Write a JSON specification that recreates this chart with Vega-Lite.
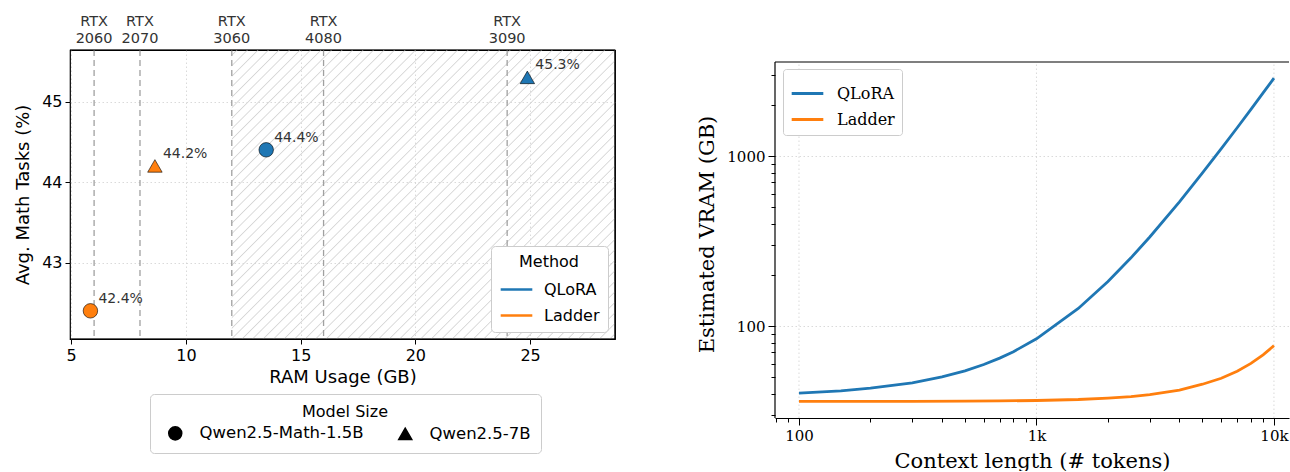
{
"$schema": "https://vega.github.io/schema/vega-lite/v6.json",
"background": "white",
"padding": {"left": 14, "top": 13, "right": 0, "bottom": 0},
"spacing": 79,
"config": {
  "font": "DejaVu Sans",
  "axis": {"labelColor": "black", "titleColor": "black", "tickColor": "black", "domainColor": "black", "titleFontWeight": "normal", "tickWidth": 1},
  "legend": {"titleFontWeight": "normal"}
},
"datasets": {
  "hatch": [{"from": 12, "to": 28.7}],
  "lframe": [{"right": 28.7, "top": 45.64, "bottom": 42.05}],
  "rframe": [{"left": 79.25, "top": 3573, "bottom": 28.8}],
  "rgrid": [{"ctx": 100}, {"ctx": 1000}, {"ctx": 10000}],
  "gpus": [
    {"gpu": "RTX 2060", "vram": 6},
    {"gpu": "RTX 2070", "vram": 8},
    {"gpu": "RTX 3060", "vram": 12},
    {"gpu": "RTX 4080", "vram": 16},
    {"gpu": "RTX 3090", "vram": 24}
  ],
  "points": [
    {"method": "Ladder", "model": "Qwen2.5-Math-1.5B", "ram": 5.84, "acc": 42.4, "label": "42.4%"},
    {"method": "Ladder", "model": "Qwen2.5-7B", "ram": 8.65, "acc": 44.2, "label": "44.2%"},
    {"method": "QLoRA", "model": "Qwen2.5-Math-1.5B", "ram": 13.5, "acc": 44.4, "label": "44.4%"},
    {"method": "QLoRA", "model": "Qwen2.5-7B", "ram": 24.88, "acc": 45.3, "label": "45.3%"}
  ],
  "vram": [
    {"method": "QLoRA", "ctx": 100, "vram": 40.3},
    {"method": "QLoRA", "ctx": 150, "vram": 41.6},
    {"method": "QLoRA", "ctx": 200, "vram": 43.1},
    {"method": "QLoRA", "ctx": 300, "vram": 46.4},
    {"method": "QLoRA", "ctx": 400, "vram": 50.2},
    {"method": "QLoRA", "ctx": 500, "vram": 54.5},
    {"method": "QLoRA", "ctx": 600, "vram": 59.4},
    {"method": "QLoRA", "ctx": 700, "vram": 64.8},
    {"method": "QLoRA", "ctx": 800, "vram": 70.7},
    {"method": "QLoRA", "ctx": 1000, "vram": 84.2},
    {"method": "QLoRA", "ctx": 1500, "vram": 126.9},
    {"method": "QLoRA", "ctx": 2000, "vram": 182.9},
    {"method": "QLoRA", "ctx": 2500, "vram": 252},
    {"method": "QLoRA", "ctx": 3000, "vram": 334},
    {"method": "QLoRA", "ctx": 4000, "vram": 538},
    {"method": "QLoRA", "ctx": 5000, "vram": 795},
    {"method": "QLoRA", "ctx": 6000, "vram": 1105},
    {"method": "QLoRA", "ctx": 7000, "vram": 1467},
    {"method": "QLoRA", "ctx": 8000, "vram": 1882},
    {"method": "QLoRA", "ctx": 9000, "vram": 2350},
    {"method": "QLoRA", "ctx": 10000, "vram": 2870},
    {"method": "Ladder", "ctx": 100, "vram": 36.1},
    {"method": "Ladder", "ctx": 200, "vram": 36.1},
    {"method": "Ladder", "ctx": 300, "vram": 36.1},
    {"method": "Ladder", "ctx": 500, "vram": 36.2},
    {"method": "Ladder", "ctx": 700, "vram": 36.3},
    {"method": "Ladder", "ctx": 1000, "vram": 36.5},
    {"method": "Ladder", "ctx": 1500, "vram": 37.0},
    {"method": "Ladder", "ctx": 2000, "vram": 37.7},
    {"method": "Ladder", "ctx": 2500, "vram": 38.5},
    {"method": "Ladder", "ctx": 3000, "vram": 39.5},
    {"method": "Ladder", "ctx": 4000, "vram": 42.0},
    {"method": "Ladder", "ctx": 5000, "vram": 45.5},
    {"method": "Ladder", "ctx": 6000, "vram": 49.3},
    {"method": "Ladder", "ctx": 7000, "vram": 54.3},
    {"method": "Ladder", "ctx": 8000, "vram": 60.3},
    {"method": "Ladder", "ctx": 9000, "vram": 67.8},
    {"method": "Ladder", "ctx": 10000, "vram": 76.7}
  ]
},
"hconcat": [
  {
    "width": 545,
    "height": 289,
    "view": {"stroke": "black", "strokeWidth": 1.2},
    "layer": [
      {
        "data": {"name": "hatch"},
        "mark": {"type": "rect", "fill": {"gradient": "linear", "x1": 0, "y1": 0, "x2": 1.118, "y2": 0.8437, "stops": [
          {"offset": 0, "color": "rgba(214,214,214,0)"},
          {"offset": 0.0060, "color": "rgba(214,214,214,0)"},{"offset": 0.0078, "color": "#d6d6d6"},{"offset": 0.0096, "color": "rgba(214,214,214,0)"},
          {"offset": 0.0216, "color": "rgba(214,214,214,0)"},{"offset": 0.0234, "color": "#d6d6d6"},{"offset": 0.0252, "color": "rgba(214,214,214,0)"},
          {"offset": 0.0373, "color": "rgba(214,214,214,0)"},{"offset": 0.0391, "color": "#d6d6d6"},{"offset": 0.0409, "color": "rgba(214,214,214,0)"},
          {"offset": 0.0529, "color": "rgba(214,214,214,0)"},{"offset": 0.0547, "color": "#d6d6d6"},{"offset": 0.0565, "color": "rgba(214,214,214,0)"},
          {"offset": 0.0685, "color": "rgba(214,214,214,0)"},{"offset": 0.0703, "color": "#d6d6d6"},{"offset": 0.0721, "color": "rgba(214,214,214,0)"},
          {"offset": 0.0841, "color": "rgba(214,214,214,0)"},{"offset": 0.0859, "color": "#d6d6d6"},{"offset": 0.0877, "color": "rgba(214,214,214,0)"},
          {"offset": 0.0998, "color": "rgba(214,214,214,0)"},{"offset": 0.1016, "color": "#d6d6d6"},{"offset": 0.1034, "color": "rgba(214,214,214,0)"},
          {"offset": 0.1154, "color": "rgba(214,214,214,0)"},{"offset": 0.1172, "color": "#d6d6d6"},{"offset": 0.1190, "color": "rgba(214,214,214,0)"},
          {"offset": 0.1310, "color": "rgba(214,214,214,0)"},{"offset": 0.1328, "color": "#d6d6d6"},{"offset": 0.1346, "color": "rgba(214,214,214,0)"},
          {"offset": 0.1466, "color": "rgba(214,214,214,0)"},{"offset": 0.1484, "color": "#d6d6d6"},{"offset": 0.1502, "color": "rgba(214,214,214,0)"},
          {"offset": 0.1623, "color": "rgba(214,214,214,0)"},{"offset": 0.1641, "color": "#d6d6d6"},{"offset": 0.1659, "color": "rgba(214,214,214,0)"},
          {"offset": 0.1779, "color": "rgba(214,214,214,0)"},{"offset": 0.1797, "color": "#d6d6d6"},{"offset": 0.1815, "color": "rgba(214,214,214,0)"},
          {"offset": 0.1935, "color": "rgba(214,214,214,0)"},{"offset": 0.1953, "color": "#d6d6d6"},{"offset": 0.1971, "color": "rgba(214,214,214,0)"},
          {"offset": 0.2091, "color": "rgba(214,214,214,0)"},{"offset": 0.2109, "color": "#d6d6d6"},{"offset": 0.2127, "color": "rgba(214,214,214,0)"},
          {"offset": 0.2248, "color": "rgba(214,214,214,0)"},{"offset": 0.2266, "color": "#d6d6d6"},{"offset": 0.2284, "color": "rgba(214,214,214,0)"},
          {"offset": 0.2404, "color": "rgba(214,214,214,0)"},{"offset": 0.2422, "color": "#d6d6d6"},{"offset": 0.2440, "color": "rgba(214,214,214,0)"},
          {"offset": 0.2560, "color": "rgba(214,214,214,0)"},{"offset": 0.2578, "color": "#d6d6d6"},{"offset": 0.2596, "color": "rgba(214,214,214,0)"},
          {"offset": 0.2716, "color": "rgba(214,214,214,0)"},{"offset": 0.2734, "color": "#d6d6d6"},{"offset": 0.2752, "color": "rgba(214,214,214,0)"},
          {"offset": 0.2873, "color": "rgba(214,214,214,0)"},{"offset": 0.2891, "color": "#d6d6d6"},{"offset": 0.2909, "color": "rgba(214,214,214,0)"},
          {"offset": 0.3029, "color": "rgba(214,214,214,0)"},{"offset": 0.3047, "color": "#d6d6d6"},{"offset": 0.3065, "color": "rgba(214,214,214,0)"},
          {"offset": 0.3185, "color": "rgba(214,214,214,0)"},{"offset": 0.3203, "color": "#d6d6d6"},{"offset": 0.3221, "color": "rgba(214,214,214,0)"},
          {"offset": 0.3341, "color": "rgba(214,214,214,0)"},{"offset": 0.3359, "color": "#d6d6d6"},{"offset": 0.3377, "color": "rgba(214,214,214,0)"},
          {"offset": 0.3498, "color": "rgba(214,214,214,0)"},{"offset": 0.3516, "color": "#d6d6d6"},{"offset": 0.3534, "color": "rgba(214,214,214,0)"},
          {"offset": 0.3654, "color": "rgba(214,214,214,0)"},{"offset": 0.3672, "color": "#d6d6d6"},{"offset": 0.3690, "color": "rgba(214,214,214,0)"},
          {"offset": 0.3810, "color": "rgba(214,214,214,0)"},{"offset": 0.3828, "color": "#d6d6d6"},{"offset": 0.3846, "color": "rgba(214,214,214,0)"},
          {"offset": 0.3966, "color": "rgba(214,214,214,0)"},{"offset": 0.3984, "color": "#d6d6d6"},{"offset": 0.4002, "color": "rgba(214,214,214,0)"},
          {"offset": 0.4123, "color": "rgba(214,214,214,0)"},{"offset": 0.4141, "color": "#d6d6d6"},{"offset": 0.4159, "color": "rgba(214,214,214,0)"},
          {"offset": 0.4279, "color": "rgba(214,214,214,0)"},{"offset": 0.4297, "color": "#d6d6d6"},{"offset": 0.4315, "color": "rgba(214,214,214,0)"},
          {"offset": 0.4435, "color": "rgba(214,214,214,0)"},{"offset": 0.4453, "color": "#d6d6d6"},{"offset": 0.4471, "color": "rgba(214,214,214,0)"},
          {"offset": 0.4591, "color": "rgba(214,214,214,0)"},{"offset": 0.4609, "color": "#d6d6d6"},{"offset": 0.4627, "color": "rgba(214,214,214,0)"},
          {"offset": 0.4748, "color": "rgba(214,214,214,0)"},{"offset": 0.4766, "color": "#d6d6d6"},{"offset": 0.4784, "color": "rgba(214,214,214,0)"},
          {"offset": 0.4904, "color": "rgba(214,214,214,0)"},{"offset": 0.4922, "color": "#d6d6d6"},{"offset": 0.4940, "color": "rgba(214,214,214,0)"},
          {"offset": 0.5060, "color": "rgba(214,214,214,0)"},{"offset": 0.5078, "color": "#d6d6d6"},{"offset": 0.5096, "color": "rgba(214,214,214,0)"},
          {"offset": 0.5216, "color": "rgba(214,214,214,0)"},{"offset": 0.5234, "color": "#d6d6d6"},{"offset": 0.5252, "color": "rgba(214,214,214,0)"},
          {"offset": 0.5373, "color": "rgba(214,214,214,0)"},{"offset": 0.5391, "color": "#d6d6d6"},{"offset": 0.5409, "color": "rgba(214,214,214,0)"},
          {"offset": 0.5529, "color": "rgba(214,214,214,0)"},{"offset": 0.5547, "color": "#d6d6d6"},{"offset": 0.5565, "color": "rgba(214,214,214,0)"},
          {"offset": 0.5685, "color": "rgba(214,214,214,0)"},{"offset": 0.5703, "color": "#d6d6d6"},{"offset": 0.5721, "color": "rgba(214,214,214,0)"},
          {"offset": 0.5841, "color": "rgba(214,214,214,0)"},{"offset": 0.5859, "color": "#d6d6d6"},{"offset": 0.5877, "color": "rgba(214,214,214,0)"},
          {"offset": 0.5998, "color": "rgba(214,214,214,0)"},{"offset": 0.6016, "color": "#d6d6d6"},{"offset": 0.6034, "color": "rgba(214,214,214,0)"},
          {"offset": 0.6154, "color": "rgba(214,214,214,0)"},{"offset": 0.6172, "color": "#d6d6d6"},{"offset": 0.6190, "color": "rgba(214,214,214,0)"},
          {"offset": 0.6310, "color": "rgba(214,214,214,0)"},{"offset": 0.6328, "color": "#d6d6d6"},{"offset": 0.6346, "color": "rgba(214,214,214,0)"},
          {"offset": 0.6466, "color": "rgba(214,214,214,0)"},{"offset": 0.6484, "color": "#d6d6d6"},{"offset": 0.6502, "color": "rgba(214,214,214,0)"},
          {"offset": 0.6623, "color": "rgba(214,214,214,0)"},{"offset": 0.6641, "color": "#d6d6d6"},{"offset": 0.6659, "color": "rgba(214,214,214,0)"},
          {"offset": 0.6779, "color": "rgba(214,214,214,0)"},{"offset": 0.6797, "color": "#d6d6d6"},{"offset": 0.6815, "color": "rgba(214,214,214,0)"},
          {"offset": 0.6935, "color": "rgba(214,214,214,0)"},{"offset": 0.6953, "color": "#d6d6d6"},{"offset": 0.6971, "color": "rgba(214,214,214,0)"},
          {"offset": 0.7091, "color": "rgba(214,214,214,0)"},{"offset": 0.7109, "color": "#d6d6d6"},{"offset": 0.7127, "color": "rgba(214,214,214,0)"},
          {"offset": 0.7248, "color": "rgba(214,214,214,0)"},{"offset": 0.7266, "color": "#d6d6d6"},{"offset": 0.7284, "color": "rgba(214,214,214,0)"},
          {"offset": 0.7404, "color": "rgba(214,214,214,0)"},{"offset": 0.7422, "color": "#d6d6d6"},{"offset": 0.7440, "color": "rgba(214,214,214,0)"},
          {"offset": 0.7560, "color": "rgba(214,214,214,0)"},{"offset": 0.7578, "color": "#d6d6d6"},{"offset": 0.7596, "color": "rgba(214,214,214,0)"},
          {"offset": 0.7716, "color": "rgba(214,214,214,0)"},{"offset": 0.7734, "color": "#d6d6d6"},{"offset": 0.7752, "color": "rgba(214,214,214,0)"},
          {"offset": 0.7873, "color": "rgba(214,214,214,0)"},{"offset": 0.7891, "color": "#d6d6d6"},{"offset": 0.7909, "color": "rgba(214,214,214,0)"},
          {"offset": 0.8029, "color": "rgba(214,214,214,0)"},{"offset": 0.8047, "color": "#d6d6d6"},{"offset": 0.8065, "color": "rgba(214,214,214,0)"},
          {"offset": 0.8185, "color": "rgba(214,214,214,0)"},{"offset": 0.8203, "color": "#d6d6d6"},{"offset": 0.8221, "color": "rgba(214,214,214,0)"},
          {"offset": 0.8341, "color": "rgba(214,214,214,0)"},{"offset": 0.8359, "color": "#d6d6d6"},{"offset": 0.8377, "color": "rgba(214,214,214,0)"},
          {"offset": 0.8498, "color": "rgba(214,214,214,0)"},{"offset": 0.8516, "color": "#d6d6d6"},{"offset": 0.8534, "color": "rgba(214,214,214,0)"},
          {"offset": 0.8654, "color": "rgba(214,214,214,0)"},{"offset": 0.8672, "color": "#d6d6d6"},{"offset": 0.8690, "color": "rgba(214,214,214,0)"},
          {"offset": 0.8810, "color": "rgba(214,214,214,0)"},{"offset": 0.8828, "color": "#d6d6d6"},{"offset": 0.8846, "color": "rgba(214,214,214,0)"},
          {"offset": 0.8966, "color": "rgba(214,214,214,0)"},{"offset": 0.8984, "color": "#d6d6d6"},{"offset": 0.9002, "color": "rgba(214,214,214,0)"},
          {"offset": 0.9123, "color": "rgba(214,214,214,0)"},{"offset": 0.9141, "color": "#d6d6d6"},{"offset": 0.9159, "color": "rgba(214,214,214,0)"},
          {"offset": 0.9279, "color": "rgba(214,214,214,0)"},{"offset": 0.9297, "color": "#d6d6d6"},{"offset": 0.9315, "color": "rgba(214,214,214,0)"},
          {"offset": 0.9435, "color": "rgba(214,214,214,0)"},{"offset": 0.9453, "color": "#d6d6d6"},{"offset": 0.9471, "color": "rgba(214,214,214,0)"},
          {"offset": 0.9591, "color": "rgba(214,214,214,0)"},{"offset": 0.9609, "color": "#d6d6d6"},{"offset": 0.9627, "color": "rgba(214,214,214,0)"},
          {"offset": 0.9748, "color": "rgba(214,214,214,0)"},{"offset": 0.9766, "color": "#d6d6d6"},{"offset": 0.9784, "color": "rgba(214,214,214,0)"},
          {"offset": 0.9904, "color": "rgba(214,214,214,0)"},{"offset": 0.9922, "color": "#d6d6d6"},{"offset": 0.9940, "color": "rgba(214,214,214,0)"},
          {"offset": 1, "color": "rgba(214,214,214,0)"}
        ]}},
        "encoding": {
          "x": {"field": "from", "type": "quantitative", "scale": {"domain": [4.95, 28.7], "nice": false, "zero": false}},
          "x2": {"field": "to"}
        }
      },
      {
        "data": {"name": "gpus"},
        "mark": {"type": "rule", "color": "#a0a0a0", "strokeDash": [6, 4], "strokeWidth": 1.3},
        "encoding": {
          "x": {"field": "vram", "type": "quantitative", "scale": {"domain": [4.95, 28.7], "nice": false, "zero": false}}
        }
      },
      {
        "data": {"name": "gpus"},
        "mark": {"type": "text", "lineBreak": " ", "baseline": "bottom", "align": "center", "dy": -21, "fontSize": 14.5, "color": "#333333", "lineHeight": 16.5},
        "encoding": {
          "x": {"field": "vram", "type": "quantitative", "scale": {"domain": [4.95, 28.7], "nice": false, "zero": false}},
          "y": {"datum": 45.64, "type": "quantitative", "scale": {"domain": [42.05, 45.64], "nice": false, "zero": false}},
          "text": {"field": "gpu"}
        }
      },
      {
        "data": {"name": "lframe"},
        "mark": {"type": "rule", "color": "black", "strokeWidth": 1.2},
        "encoding": {
          "y": {"field": "top", "type": "quantitative", "scale": {"domain": [42.05, 45.64], "nice": false, "zero": false}}
        }
      },
      {
        "data": {"name": "lframe"},
        "mark": {"type": "rule", "color": "black", "strokeWidth": 1.2},
        "encoding": {
          "y": {"field": "bottom", "type": "quantitative", "scale": {"domain": [42.05, 45.64], "nice": false, "zero": false}}
        }
      },
      {
        "data": {"name": "lframe"},
        "mark": {"type": "rule", "color": "black", "strokeWidth": 1.2},
        "encoding": {
          "x": {"field": "right", "type": "quantitative", "scale": {"domain": [4.95, 28.7], "nice": false, "zero": false}}
        }
      },
      {
        "data": {"name": "points"},
        "transform": [{"filter": "false"}],
        "mark": {"type": "line", "strokeWidth": 2.5},
        "encoding": {
          "x": {"field": "ram", "type": "quantitative", "scale": {"domain": [4.95, 28.7], "nice": false, "zero": false}},
          "y": {"field": "acc", "type": "quantitative", "scale": {"domain": [42.05, 45.64], "nice": false, "zero": false}},
          "color": {"field": "method", "type": "nominal", "scale": {"domain": ["QLoRA", "Ladder"], "range": ["#1f77b4", "#ff7f0e"]},
            "legend": {"title": "Method", "orient": "bottom-right", "offset": 7, "symbolType": "stroke", "symbolSize": 1000, "symbolStrokeWidth": 2.5, "labelFontSize": 16, "titleFontSize": 16, "titleAnchor": "middle", "titlePadding": 2, "padding": 8, "rowPadding": -6, "labelOffset": 10, "fillColor": "white", "strokeColor": "#cccccc", "cornerRadius": 4}}
        }
      },
      {
        "data": {"name": "points"},
        "mark": {"type": "point", "filled": true, "size": 210, "stroke": "black", "strokeWidth": 0.6, "opacity": 1},
        "encoding": {
          "x": {"field": "ram", "type": "quantitative", "scale": {"domain": [4.95, 28.7], "nice": false, "zero": false},
            "axis": {"values": [5, 10, 15, 20, 25], "format": ".0f", "grid": true, "gridDash": [1.5, 2.5], "gridColor": "#d0d0d0", "gridWidth": 0.8, "domain": false, "tickSize": 5, "labelFontSize": 16, "labelPadding": 3, "labelFlush": false, "title": "RAM Usage (GB)", "titleFontSize": 18, "titlePadding": 5}},
          "y": {"field": "acc", "type": "quantitative", "scale": {"domain": [42.05, 45.64], "nice": false, "zero": false},
            "axis": {"values": [43, 44, 45], "format": ".0f", "grid": true, "gridDash": [1.5, 2.5], "gridColor": "#d0d0d0", "gridWidth": 0.8, "domain": false, "tickSize": 5, "labelFontSize": 16, "labelPadding": 3, "title": "Avg. Math Tasks (%)", "titleFontSize": 18, "titlePadding": 9}},
          "fill": {"field": "method", "type": "nominal", "scale": {"domain": ["QLoRA", "Ladder"], "range": ["#1f77b4", "#ff7f0e"]}, "legend": null},
          "shape": {"field": "model", "type": "nominal", "scale": {"domain": ["Qwen2.5-Math-1.5B", "Qwen2.5-7B"], "range": ["circle", "triangle-up"]},
            "legend": {"title": "Model Size", "orient": "none", "legendX": 80, "legendY": 344, "direction": "horizontal", "titleAnchor": "middle", "symbolFillColor": "black", "symbolStrokeColor": "black", "symbolSize": 170, "symbolOffset": 7, "labelFontSize": 16.5, "labelLimit": 400, "titleFontSize": 16, "padding": 10, "columnPadding": 26, "labelOffset": 16, "fillColor": "white", "strokeColor": "#cccccc", "cornerRadius": 4,
              "encode": {"symbols": {"update": {"fill": {"value": "black"}, "stroke": {"value": "black"}}}}}}
        }
      },
      {
        "data": {"name": "points"},
        "mark": {"type": "text", "align": "left", "baseline": "middle", "dx": 8, "dy": -12, "fontSize": 14, "color": "#333333"},
        "encoding": {
          "x": {"field": "ram", "type": "quantitative", "scale": {"domain": [4.95, 28.7], "nice": false, "zero": false}},
          "y": {"field": "acc", "type": "quantitative", "scale": {"domain": [42.05, 45.64], "nice": false, "zero": false}},
          "text": {"field": "label"}
        }
      }
    ]
  },
  {
    "width": 514,
    "height": 368,
    "view": {"stroke": null},
    "layer": [
      {
        "data": {"name": "rgrid"},
        "mark": {"type": "rule", "color": "#d0d0d0", "strokeDash": [1.5, 2.5], "strokeWidth": 0.8},
        "encoding": {
          "x": {"field": "ctx", "type": "quantitative", "scale": {"type": "log", "domain": [79.25, 11570], "nice": false}},
          "y": {"datum": 28.8, "type": "quantitative", "scale": {"type": "log", "domain": [28.8, 4203], "nice": false}},
          "y2": {"datum": 3573}
        }
      },
      {
        "data": {"name": "vram"},
        "mark": {"type": "line", "strokeWidth": 2.8, "clip": true},
        "encoding": {
          "x": {"field": "ctx", "type": "quantitative", "scale": {"type": "log", "domain": [79.25, 11570], "nice": false},
            "axis": {"values": [80, 90, 100, 200, 300, 400, 500, 600, 700, 800, 900, 1000, 2000, 3000, 4000, 5000, 6000, 7000, 8000, 9000, 10000],
              "labelExpr": "datum.value == 100 ? '100' : datum.value == 1000 ? '1k' : datum.value == 10000 ? '10k' : ''",
              "tickSize": {"condition": {"test": "datum.value == 100 || datum.value == 1000 || datum.value == 10000", "value": 7}, "value": 4},
              "grid": false,
              "domain": true, "domainWidth": 1.2, "labelFont": "DejaVu Serif", "labelFontSize": 15, "labelPadding": 3, "labelFlush": false, "labelOverlap": false, "labelBound": false,
              "title": "Context length (# tokens)", "titleFont": "DejaVu Serif", "titleFontSize": 21, "titlePadding": 7}},
          "y": {"field": "vram", "type": "quantitative", "scale": {"type": "log", "domain": [28.8, 4203], "nice": false},
            "axis": {"values": [30, 40, 50, 60, 70, 80, 90, 100, 200, 300, 400, 500, 600, 700, 800, 900, 1000, 2000, 3000],
              "labelExpr": "datum.value == 100 ? '100' : datum.value == 1000 ? '1000' : ''",
              "tickSize": {"condition": {"test": "datum.value == 100 || datum.value == 1000", "value": 7}, "value": 4},
              "gridOpacity": {"condition": {"test": "datum.value == 100 || datum.value == 1000", "value": 1}, "value": 0},
              "grid": true, "gridDash": [1.5, 2.5], "gridColor": "#d0d0d0", "gridWidth": 0.8,
              "domain": false, "labelFont": "DejaVu Serif", "labelFontSize": 15, "labelPadding": 3, "labelOverlap": false, "labelBound": false,
              "title": "Estimated VRAM (GB)", "titleFont": "DejaVu Serif", "titleFontSize": 21, "titlePadding": 9}},
          "color": {"field": "method", "type": "nominal", "scale": {"domain": ["QLoRA", "Ladder"], "range": ["#1f77b4", "#ff7f0e"]},
            "legend": {"title": null, "orient": "none", "legendX": 8, "legendY": 19, "symbolType": "stroke", "symbolSize": 1000, "symbolStrokeWidth": 2.8, "labelFont": "DejaVu Serif", "labelFontSize": 16, "padding": 7, "rowPadding": -7, "labelOffset": 12, "fillColor": "white", "strokeColor": "#cccccc", "cornerRadius": 3}}
        }
      },
      {
        "data": {"name": "rframe"},
        "mark": {"type": "rule", "color": "black", "strokeWidth": 1.2},
        "encoding": {
          "y": {"field": "top", "type": "quantitative", "scale": {"type": "log", "domain": [28.8, 4203], "nice": false}}
        }
      },
      {
        "data": {"name": "rframe"},
        "mark": {"type": "rule", "color": "black", "strokeWidth": 1.2},
        "encoding": {
          "x": {"field": "left", "type": "quantitative", "scale": {"type": "log", "domain": [79.25, 11570], "nice": false}},
          "y": {"field": "bottom", "type": "quantitative", "scale": {"type": "log", "domain": [28.8, 4203], "nice": false}},
          "y2": {"field": "top"}
        }
      }
    ]
  }
],
"resolve": {"scale": {"color": "independent"}, "legend": {"color": "independent"}}
}
